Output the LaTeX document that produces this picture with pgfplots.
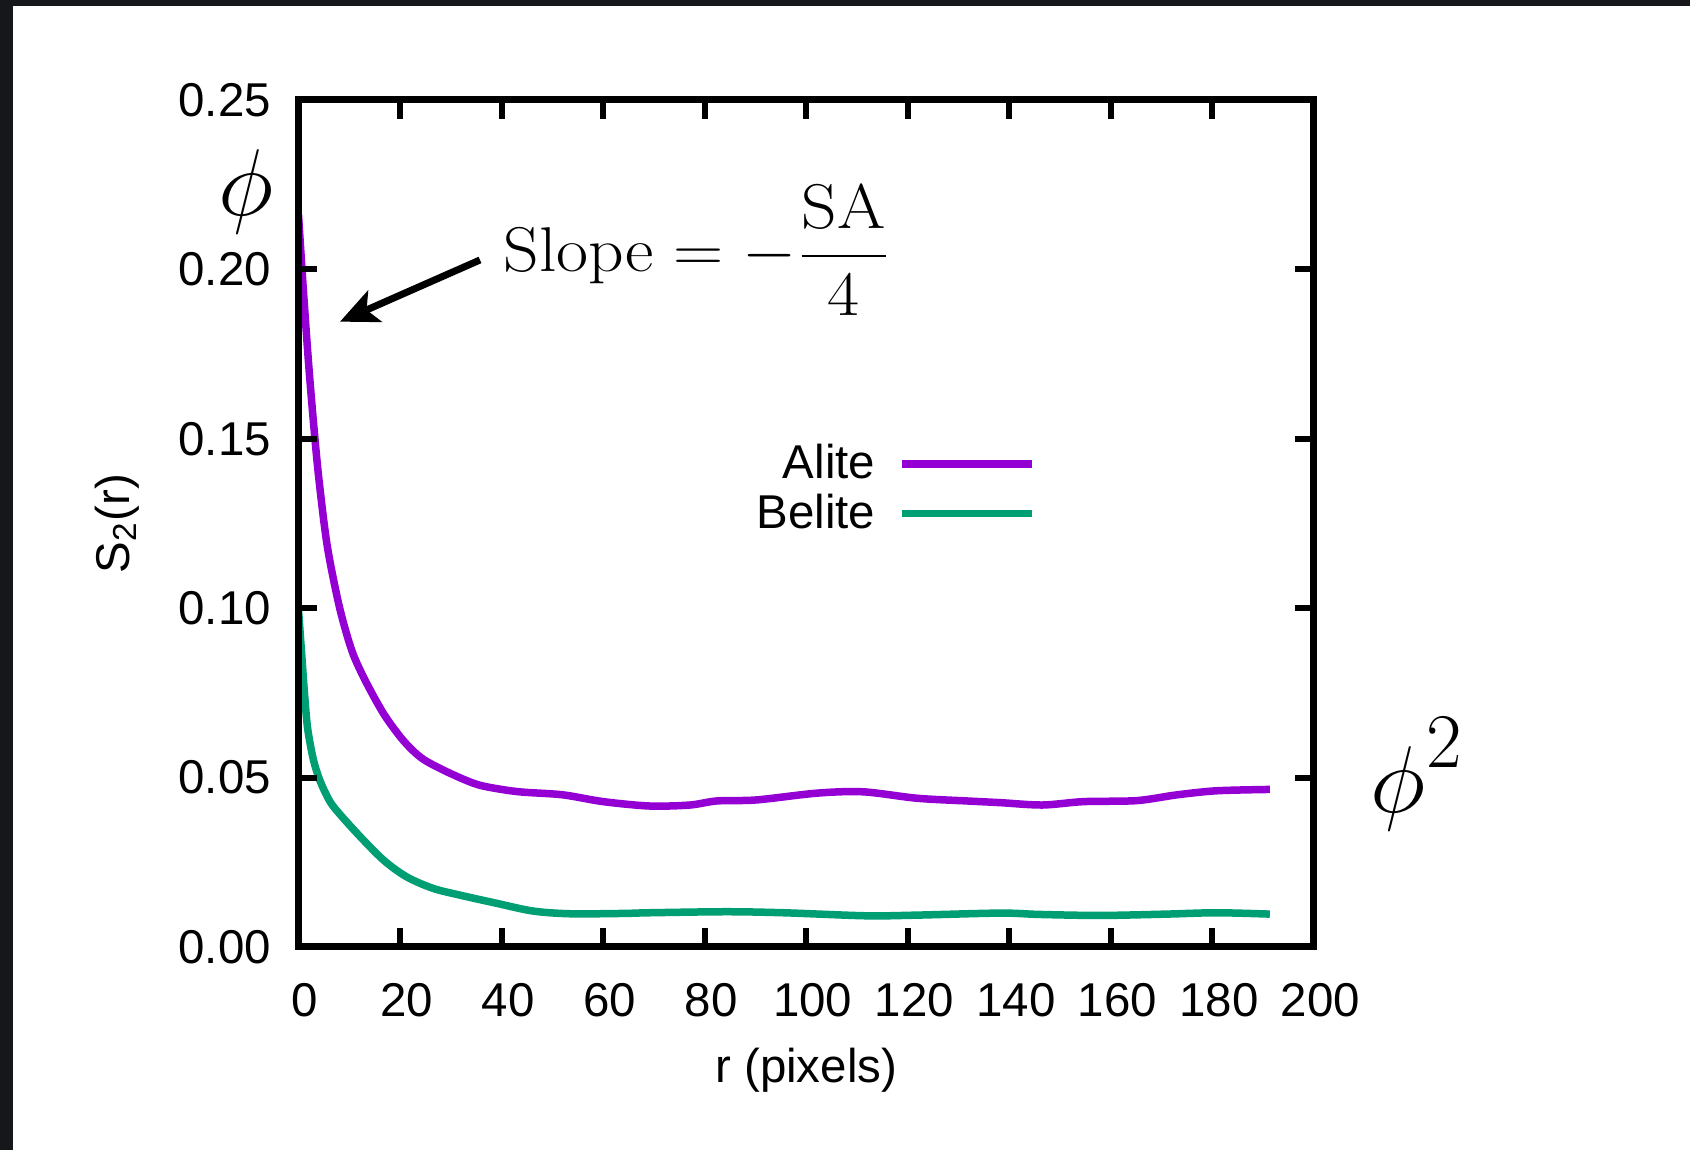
\RequirePackage{fix-cm}
\documentclass[border=0pt]{standalone}
\usepackage[no-math]{fontspec}
\setmainfont{Liberation Sans}
\usepackage{pgfplots}
\pgfplotsset{compat=1.18}
\usetikzlibrary{arrows.meta}

\definecolor{alite}{HTML}{9400D3}
\definecolor{belite}{HTML}{009E73}
\definecolor{screenframe}{HTML}{15171A}

% S2(r)
\pgfplotstableread{
r s
0 0.216
1 0.193
2 0.172
3 0.154
4.04 0.1378
5.68 0.1182
8.04 0.1005
10.5 0.0875
13.1 0.0788
16.7 0.0690
20 0.0621
22.5 0.0580
25 0.0550
29.8 0.0513
35.1 0.0480
40 0.0465
44.2 0.0457
52.1 0.0449
60 0.0429
69.2 0.0416
77.1 0.0419
82.4 0.0431
90.2 0.0434
102.1 0.0454
111.2 0.0458
121.8 0.0439
131.6 0.0431
138.2 0.0426
146.5 0.0419
154.6 0.0429
165.1 0.0432
173 0.0449
180.8 0.0461
191.3 0.0465
}\alitetab

\pgfplotstableread{
r s
0 0.0995
0.6 0.087
1.2 0.0745
1.8 0.0645
2.9 0.0555
4.0 0.0500
5.3 0.0455
6.9 0.0414
11.5 0.0336
16.7 0.0257
21.3 0.0207
26.5 0.0173
31.8 0.0153
39 0.0129
46.2 0.0106
53.5 0.0098
64 0.0099
69.2 0.0101
84.3 0.0104
95.5 0.0101
111.9 0.0092
121.8 0.0094
138.2 0.0100
146 0.0096
157.9 0.0093
171 0.0097
180.8 0.0101
191.3 0.0097
}\belitetab

\begin{document}
\begin{tikzpicture}
\fill[white] (0,0) rectangle (169mm,115mm);
\path[use as bounding box] (0,0) rectangle (169mm,115mm);
\fill[screenframe] (0,114.4mm) rectangle (169mm,115mm);
\fill[screenframe] (0,0) rectangle (1.3mm,115mm);

\begin{axis}[
    at={(29.85mm,20.3mm)}, anchor=south west,
    scale only axis, width=101.55mm, height=84.7mm,
    xmin=0, xmax=200, ymin=0, ymax=0.25,
    xtick={0,20,...,200},
    ytick={0,0.05,0.1,0.15,0.2,0.25},
    scaled ticks=false,
    yticklabel style={/pgf/number format/fixed, /pgf/number format/fixed zerofill, /pgf/number format/precision=2},
    /pgf/number format/assume math mode=true,
    tick label style={font=\fontsize{13.5}{15}\selectfont, inner sep=0pt},
    xticklabel style={anchor=north, yshift=-3.6mm, xshift=0.65mm},
    yticklabel style={anchor=east, xshift=-2.7mm},
    xtick pos=both, ytick pos=both,
    xticklabel pos=bottom, yticklabel pos=left,
    tick align=inside,
    major tick length=1.9mm,
    minor tick num=0,
    axis line style={line width=0.7mm},
    tick style={line width=0.6mm, black},
    axis on top,
    xlabel={r (pixels)},
    ylabel={S\textsubscript{2}(r)},
    xlabel style={at={(axis description cs:0.5,-0.146)}, anchor=center, inner sep=0pt, font=\fontsize{13.5}{15}\selectfont},
    ylabel style={at={(axis description cs:-0.1787,0.5)}, anchor=center, inner sep=0pt, font=\fontsize{13.5}{15}\selectfont},
    legend style={draw=none, fill=none, at={(axis description cs:0.7266,0.541)}, anchor=east,
        inner sep=0pt, row sep=1.0mm, column sep=2.3mm, font=\fontsize{13.5}{15}\selectfont,
        nodes={inner sep=0pt}},
    legend cell align=right,
    legend plot pos=right,
    legend image code/.code={\draw[#1] (0mm,0mm) -- (13mm,0mm);},
]
\addplot[alite, line width=0.75mm, line join=round, smooth, tension=0.5] table[x=r, y=s] {\alitetab};
\addlegendentry{Alite}
\addplot[belite, line width=0.75mm, line join=round, smooth, tension=0.5] table[x=r, y=s] {\belitetab};
\addlegendentry{Belite}
\end{axis}

\draw[line width=0.7mm, -{Stealth[length=3.8mm, width=3.4mm, inset=0.9mm]}] (48mm,89mm) -- (34mm,82.83mm);
\node[anchor=base west, inner sep=0pt] at (50.3mm,87.83mm) {\scalebox{1.1}[1]{\fontsize{18}{20}\selectfont$\displaystyle\mathrm{Slope}=-\frac{\mathrm{SA}}{4}$}};
\node[anchor=base west, inner sep=0pt] at (21.8mm,93.4mm) {\fontsize{27}{30}\selectfont$\phi$};
\node[anchor=base west, inner sep=0pt] at (137mm,33.7mm) {\fontsize{27}{30}\selectfont$\phi$};
\node[anchor=base west, inner sep=0pt] at (142.6mm,38.2mm) {\fontsize{22}{24}\selectfont$2$};
\end{tikzpicture}
\end{document}
